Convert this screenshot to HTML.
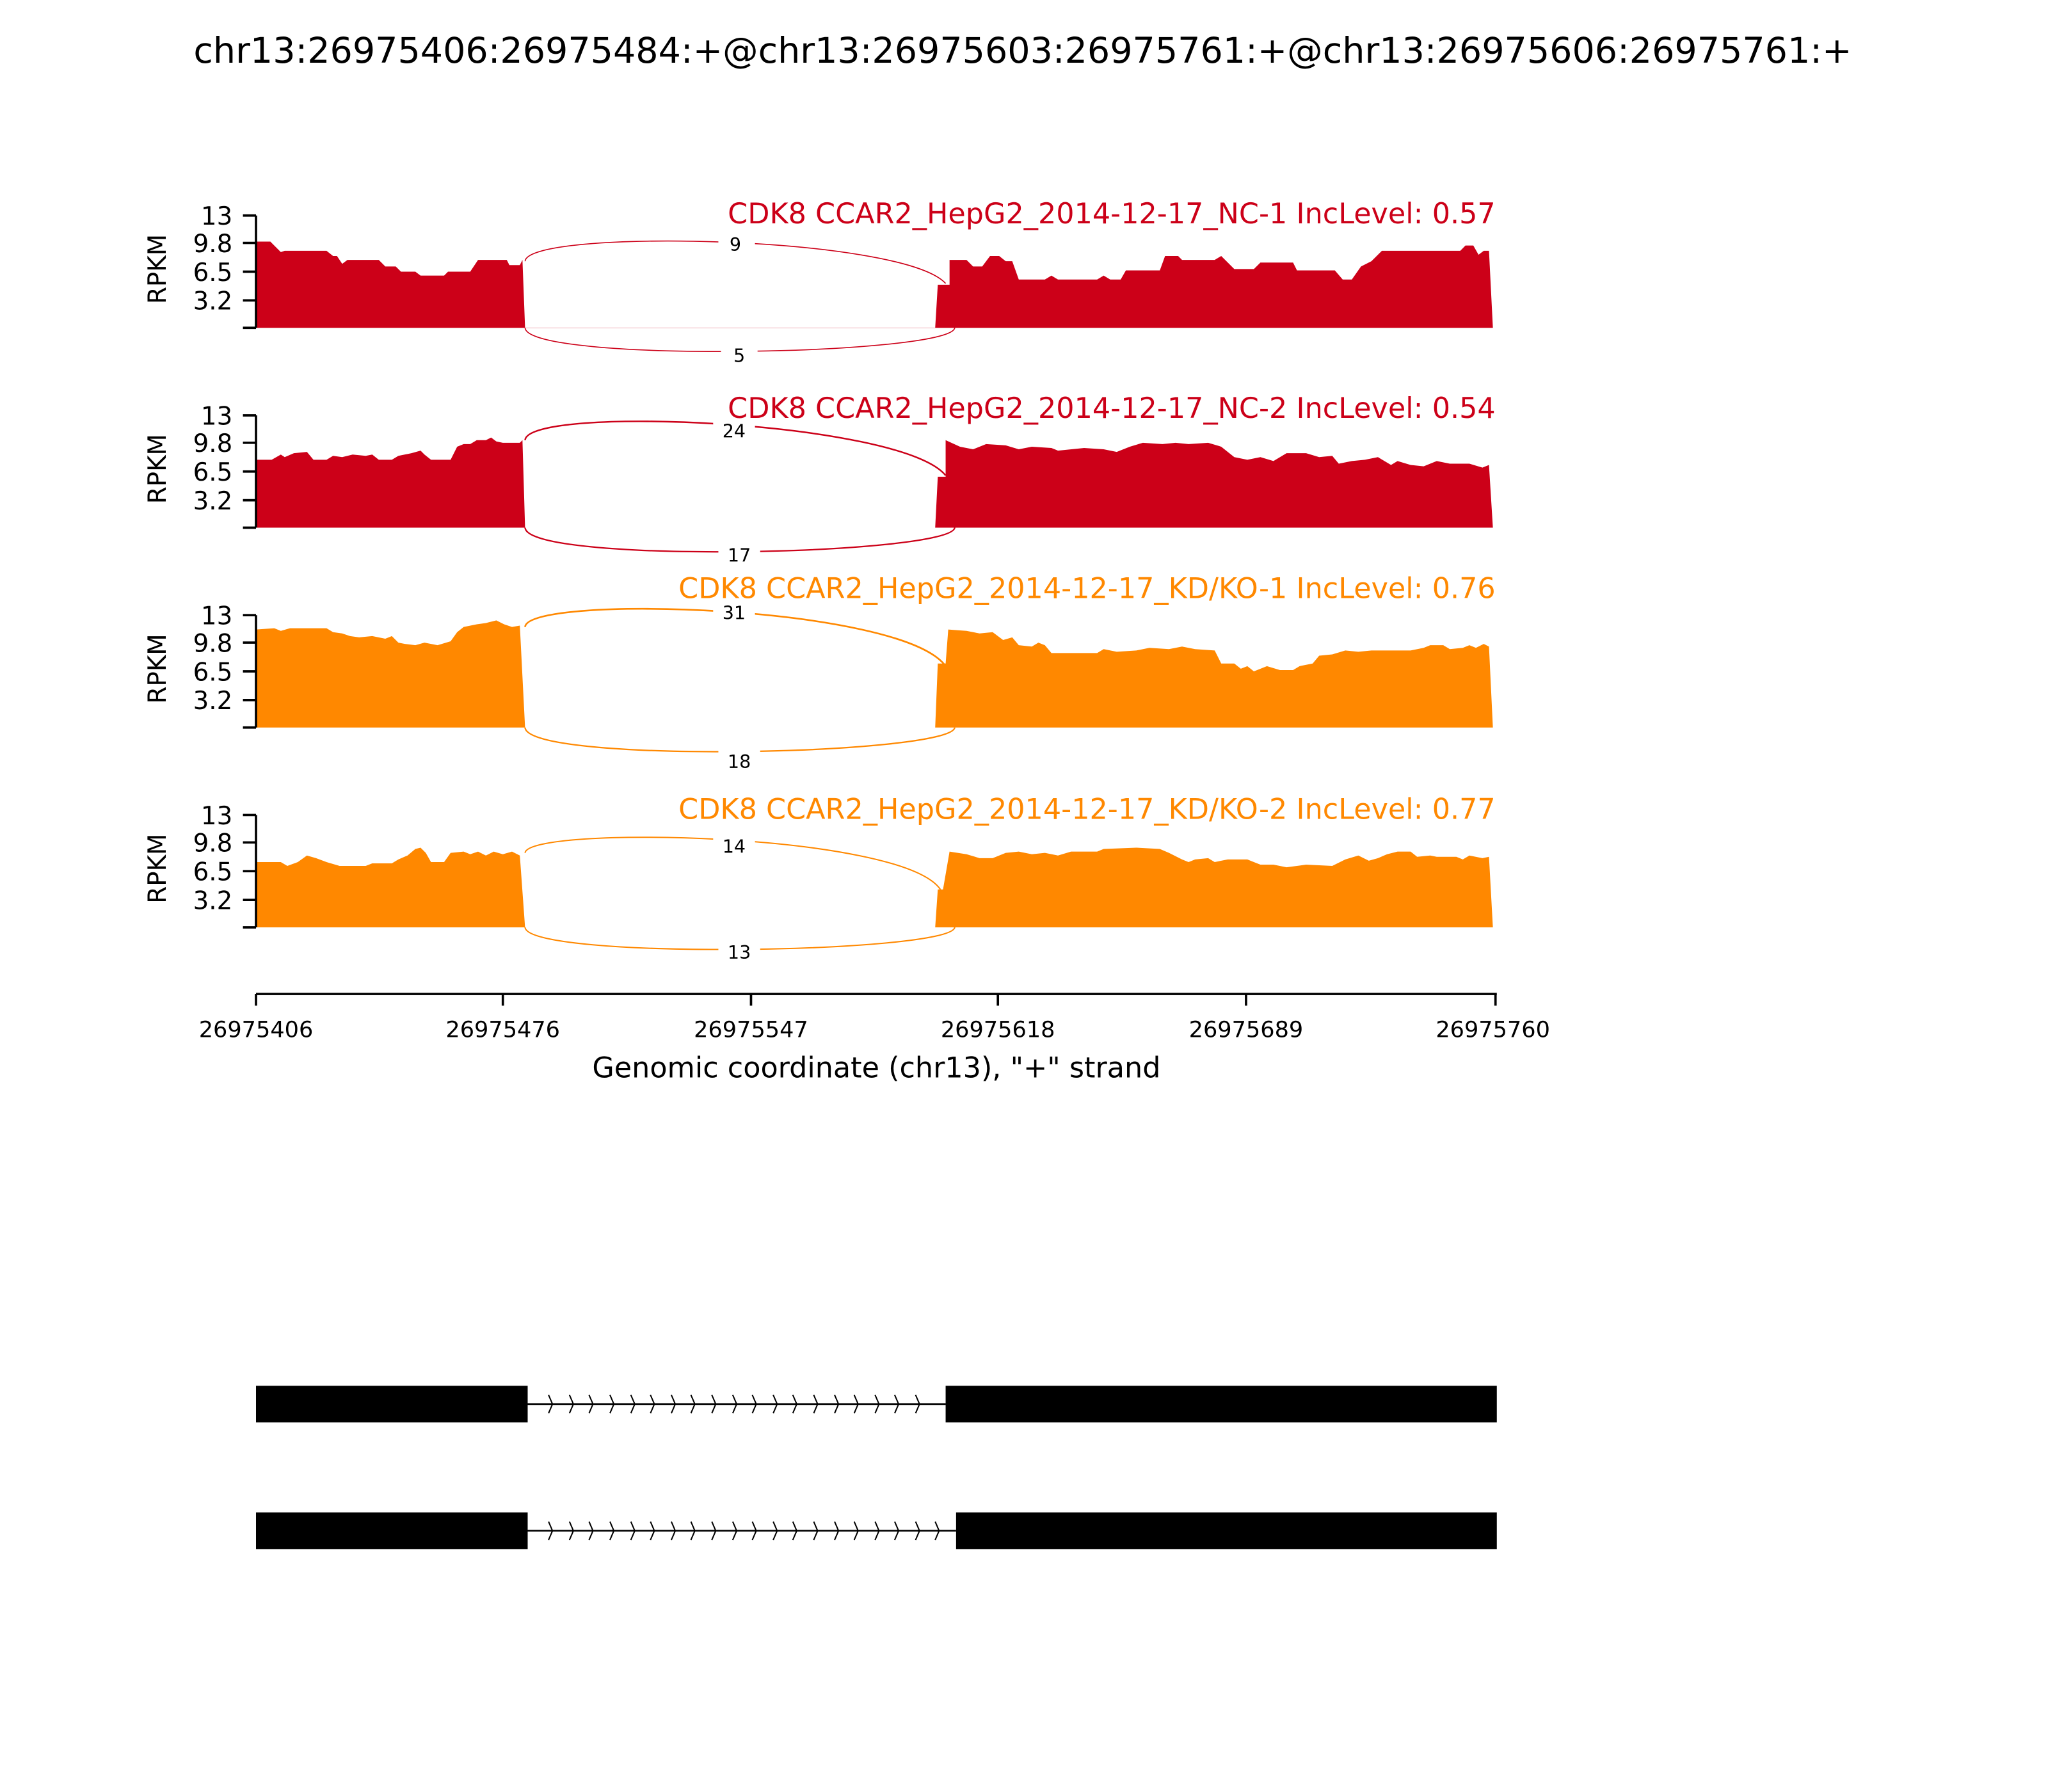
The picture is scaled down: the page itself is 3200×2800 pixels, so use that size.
<!DOCTYPE html>
<html><head><meta charset="utf-8"><style>html,body{margin:0;padding:0;background:#fff}svg{display:block}</style></head>
<body>
<svg width="3200" height="2800" viewBox="0 0 1568 1372" xmlns="http://www.w3.org/2000/svg" font-family="'DejaVu Sans','Liberation Sans',sans-serif">
<rect width="1568" height="1372" fill="#fff"/>
<text x="783" y="48" font-size="27.2" text-anchor="middle">chr13:26975406:26975484:+@chr13:26975603:26975761:+@chr13:26975606:26975761:+</text>

<!-- Panel 1 -->
<g>
<polygon fill="#cc0018" points="196,251 196,185 207,185 215,193 218,192 250,192 255,196 258,196 262,202 266,199 290,199 295,204 303,204 307,208 318,208 322,211 340,211 343,208 360,208 366,199 388,199 390,203 398,203 400,199 402,251"/>
<polygon fill="#cc0018" points="716,251 718,218 727,218 727,199 740,199 745,204 752,204 758,196 765,196 770,200 775,200 780,214 800,214 805,211 810,214 840,214 845,211 850,214 858,214 862,207 888,207 892,196 902,196 905,199 930,199 935,196 945,206 960,206 965,201 990,201 993,207 1022,207 1028,214 1035,214 1042,204 1050,200 1058,192 1118,192 1122,188 1128,188 1132,195 1136,192 1140,192 1143,251"/>
<path d="M402,200 C404,175 690,180 724,217" fill="none" stroke="#cc0018" stroke-width="0.8"/>
<path d="M402,251 C404,278 728,272 731,251" fill="none" stroke="#cc0018" stroke-width="0.8"/>
<line x1="402" y1="251" x2="716" y2="251" stroke="#cc0018" stroke-width="0.4" opacity="0.4"/>
<rect x="550" y="178" width="28" height="17" fill="#fff"/><text x="563" y="192" font-size="14" text-anchor="middle">9</text>
<rect x="552" y="262" width="28" height="17" fill="#fff"/><text x="566" y="277" font-size="14" text-anchor="middle">5</text>
<text x="1145" y="171" font-size="21.8" fill="#cc0018" text-anchor="end">CDK8 CCAR2_HepG2_2014-12-17_NC-1 IncLevel: 0.57</text>
</g>

<!-- Panel 2 -->
<g>
<polygon fill="#cc0018" points="196,404 196,352 208,352 215,348 218,350 225,347 235,346 240,352 250,352 255,349 262,350 270,348 280,349 285,348 290,352 300,352 305,349 315,347 322,345 325,348 330,352 345,352 350,342 355,340 360,340 365,337 372,337 376,335 380,338 385,339 398,339 400,337 402,404"/>
<polygon fill="#cc0018" points="716,404 718,365 724,365 724,337 735,342 745,344 755,340 770,341 780,344 790,342 805,343 810,345 830,343 845,344 855,346 865,342 875,339 890,340 900,339 910,340 925,339 935,342 945,350 955,352 965,350 975,353 985,347 1000,347 1010,350 1020,349 1025,355 1035,353 1045,352 1055,350 1065,356 1070,353 1080,356 1090,357 1100,353 1110,355 1125,355 1135,358 1140,356 1143,404"/>
<path d="M402,337 C404,310 690,322 724,364" fill="none" stroke="#cc0018" stroke-width="1.2"/>
<path d="M402,404 C404,432 728,425 731,404" fill="none" stroke="#cc0018" stroke-width="1.1"/>
<rect x="546" y="320" width="32" height="17" fill="#fff"/><text x="562" y="335" font-size="14" text-anchor="middle">24</text>
<rect x="550" y="415" width="32" height="17" fill="#fff"/><text x="566" y="430" font-size="14" text-anchor="middle">17</text>
<text x="1145" y="320" font-size="21.8" fill="#cc0018" text-anchor="end">CDK8 CCAR2_HepG2_2014-12-17_NC-2 IncLevel: 0.54</text>
</g>

<!-- Panel 3 -->
<g>
<polygon fill="#ff8800" points="196,557 196,482 210,481 215,483 222,481 250,481 255,484 262,485 268,487 275,488 285,487 295,489 300,487 305,492 310,493 318,494 325,492 335,494 345,491 350,484 355,480 365,478 372,477 380,475 386,478 392,480 398,479 402,557"/>
<polygon fill="#ff8800" points="716,557 718,508 724,508 726,482 740,483 750,485 760,484 768,490 775,488 780,494 790,495 795,492 800,494 805,500 840,500 845,497 855,499 870,498 880,496 895,497 905,495 915,497 930,498 935,508 945,508 950,512 955,510 960,514 970,510 980,513 990,513 995,510 1005,508 1010,502 1020,501 1030,498 1040,499 1050,498 1080,498 1090,496 1095,494 1105,494 1110,497 1120,496 1125,494 1130,496 1136,493 1140,495 1143,557"/>
<path d="M402,480 C404,455 690,463 724,510" fill="none" stroke="#ff8800" stroke-width="1.3"/>
<path d="M402,557 C404,585 728,578 731,557" fill="none" stroke="#ff8800" stroke-width="1.1"/>
<rect x="546" y="459" width="32" height="17" fill="#fff"/><text x="562" y="474" font-size="14" text-anchor="middle">31</text>
<rect x="550" y="573" width="32" height="17" fill="#fff"/><text x="566" y="588" font-size="14" text-anchor="middle">18</text>
<text x="1145" y="458" font-size="21.8" fill="#ff8800" text-anchor="end">CDK8 CCAR2_HepG2_2014-12-17_KD/KO-1 IncLevel: 0.76</text>
</g>

<!-- Panel 4 -->
<g>
<polygon fill="#ff8800" points="196,710 196,660 215,660 220,663 228,660 235,655 242,657 250,660 260,663 280,663 285,661 300,661 305,658 312,655 318,650 322,649 326,653 330,660 340,660 345,653 355,652 360,654 366,652 372,655 378,652 385,654 392,652 398,655 402,710"/>
<polygon fill="#ff8800" points="716,710 718,681 722,681 727,652 740,654 750,657 760,657 770,653 780,652 790,654 800,653 810,655 820,652 840,652 845,650 870,649 888,650 895,653 905,658 910,660 915,658 925,657 930,660 940,658 955,658 960,660 965,662 975,662 985,664 1000,662 1020,663 1030,658 1040,655 1048,659 1055,657 1062,654 1070,652 1080,652 1085,656 1095,655 1100,656 1115,656 1120,658 1125,655 1135,657 1140,656 1143,710"/>
<path d="M402,653 C404,632 690,637 720,681" fill="none" stroke="#ff8800" stroke-width="1"/>
<path d="M402,710 C404,735 728,730 731,710" fill="none" stroke="#ff8800" stroke-width="1"/>
<rect x="546" y="639" width="32" height="17" fill="#fff"/><text x="562" y="653" font-size="14" text-anchor="middle">14</text>
<rect x="550" y="720" width="32" height="17" fill="#fff"/><text x="566" y="734" font-size="14" text-anchor="middle">13</text>
<text x="1145" y="627" font-size="21.8" fill="#ff8800" text-anchor="end">CDK8 CCAR2_HepG2_2014-12-17_KD/KO-2 IncLevel: 0.77</text>
</g>

<!-- Y axes -->
<g stroke="#000" stroke-width="1.8" fill="none">
<path d="M196,165 V251 M186,165 H196 M186,186 H196 M186,208 H196 M186,230 H196 M186,251 H196"/>
<path d="M196,318 V404 M186,318 H196 M186,339 H196 M186,361 H196 M186,383 H196 M186,404 H196"/>
<path d="M196,471 V557 M186,471 H196 M186,492 H196 M186,514 H196 M186,536 H196 M186,557 H196"/>
<path d="M196,624 V710 M186,624 H196 M186,645 H196 M186,667 H196 M186,689 H196 M186,710 H196"/>
</g>
<g font-size="19" text-anchor="end">
<text x="178" y="172">13</text><text x="178" y="193">9.8</text><text x="178" y="215">6.5</text><text x="178" y="237">3.2</text>
<text x="178" y="325">13</text><text x="178" y="346">9.8</text><text x="178" y="368">6.5</text><text x="178" y="390">3.2</text>
<text x="178" y="478">13</text><text x="178" y="499">9.8</text><text x="178" y="521">6.5</text><text x="178" y="543">3.2</text>
<text x="178" y="631">13</text><text x="178" y="652">9.8</text><text x="178" y="674">6.5</text><text x="178" y="696">3.2</text>
</g>
<g font-size="19" text-anchor="middle">
<text transform="translate(127,206) rotate(-90)">RPKM</text>
<text transform="translate(127,359) rotate(-90)">RPKM</text>
<text transform="translate(127,512) rotate(-90)">RPKM</text>
<text transform="translate(127,665) rotate(-90)">RPKM</text>
</g>

<!-- X axis -->
<g stroke="#000" stroke-width="1.8">
<line x1="196" y1="761" x2="1146" y2="761"/>
<path d="M196,761 v9 M385,761 v9 M575,761 v9 M764,761 v9 M954,761 v9 M1145,761 v9"/>
</g>
<g font-size="17.2" text-anchor="middle">
<text x="196" y="794">26975406</text><text x="385" y="794">26975476</text><text x="575" y="794">26975547</text>
<text x="764" y="794">26975618</text><text x="954" y="794">26975689</text><text x="1143" y="794">26975760</text>
</g>
<text x="671" y="825" font-size="21.8" text-anchor="middle">Genomic coordinate (chr13), "+" strand</text>

<!-- Gene models -->
<rect x="196" y="1061" width="208" height="28" fill="#000"/>
<rect x="724" y="1061" width="422" height="28" fill="#000"/>
<line x1="404" y1="1075" x2="724" y2="1075" stroke="#000" stroke-width="1.3"/>
<rect x="196" y="1158" width="208" height="28" fill="#000"/>
<rect x="732" y="1158" width="414" height="28" fill="#000"/>
<line x1="404" y1="1172" x2="732" y2="1172" stroke="#000" stroke-width="1.3"/>
<g stroke="#000" stroke-width="1" fill="none">
<path d="M420,1068 l3,7 l-3,7 M436,1068 l3,7 l-3,7 M451,1068 l3,7 l-3,7 M467,1068 l3,7 l-3,7 M483,1068 l3,7 l-3,7 M498,1068 l3,7 l-3,7 M514,1068 l3,7 l-3,7 M529,1068 l3,7 l-3,7 M545,1068 l3,7 l-3,7 M561,1068 l3,7 l-3,7 M576,1068 l3,7 l-3,7 M592,1068 l3,7 l-3,7 M607,1068 l3,7 l-3,7 M623,1068 l3,7 l-3,7 M639,1068 l3,7 l-3,7 M654,1068 l3,7 l-3,7 M670,1068 l3,7 l-3,7 M685,1068 l3,7 l-3,7 M701,1068 l3,7 l-3,7"/>
<path d="M420,1165 l3,7 l-3,7 M436,1165 l3,7 l-3,7 M451,1165 l3,7 l-3,7 M467,1165 l3,7 l-3,7 M483,1165 l3,7 l-3,7 M498,1165 l3,7 l-3,7 M514,1165 l3,7 l-3,7 M529,1165 l3,7 l-3,7 M545,1165 l3,7 l-3,7 M561,1165 l3,7 l-3,7 M576,1165 l3,7 l-3,7 M592,1165 l3,7 l-3,7 M607,1165 l3,7 l-3,7 M623,1165 l3,7 l-3,7 M639,1165 l3,7 l-3,7 M654,1165 l3,7 l-3,7 M670,1165 l3,7 l-3,7 M685,1165 l3,7 l-3,7 M701,1165 l3,7 l-3,7 M716,1165 l3,7 l-3,7"/>
</g>
</svg>
</body></html>
